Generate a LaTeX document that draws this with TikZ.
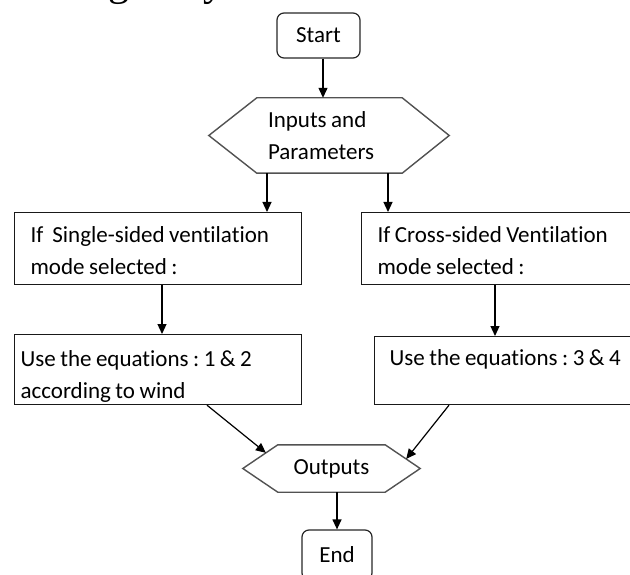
\documentclass[tikz,border=0pt]{standalone}
\usepackage{fontspec}
\setmainfont{Carlito}[Ligatures=NoCommon]
\newfontfamily\fragfont{Liberation Serif}
\usetikzlibrary{arrows.meta,calc}
\newcommand{\boxfont}{\fontsize{23}{32}\selectfont}
\newcommand{\tightspace}{\spaceskip=4.5pt plus 1pt minus 0.5pt\xspaceskip=4.5pt plus 1pt minus 0.5pt\relax}
\begin{document}
\begin{tikzpicture}[x=1pt,y=-1pt,
  every node/.style={font=\boxfont},
  rbox/.style={rounded corners=7pt, draw=black!85, line width=1.2pt, inner sep=0pt},
  pbox/.style={draw=black!90, line width=1.2pt, anchor=north west, align=left, inner ysep=0pt,
    execute at begin node=\tightspace},
  hexn/.style={inner sep=0pt, align=left, execute at begin node=\tightspace},
  hexline/.style={draw=black!68, line width=1.4pt, line join=miter},
  arr/.style={draw=black, line width=1.2pt, -{Triangle[length=10pt,width=9pt]}},
]
\useasboundingbox (0,0) rectangle (630,575);
\clip (0,0) rectangle (630,575);

% cut-off text line at the top
\node[font=\fragfont\fontsize{42}{42}\selectfont, anchor=base east, inner sep=0pt] (frag) at (225,-4) {g to by};

% nodes
\node[rbox, minimum width=83pt, minimum height=45pt] (start) at (318.5,35.5) {Start};

\node[hexn, minimum width=240pt, minimum height=75pt, text width=122pt] (inp) at (329,135.5) {Inputs and\\Parameters};
\draw[hexline] (inp.west) -- ($(inp.north west)+(48,0)$) -- ($(inp.north east)+(-47,0)$) -- (inp.east)
  -- ($(inp.south east)+(-47,0)$) -- ($(inp.south west)+(48,0)$) -- cycle;

\node[pbox, minimum width=287pt, minimum height=72pt, text width=255pt, inner xsep=16pt] (sl) at (14,212)
  {\rule{0pt}{20pt}If\hspace{9pt}Single-sided ventilation\\mode selected :};
\node[pbox, minimum width=300pt, minimum height=72pt, text width=268pt, inner xsep=16pt] (cr) at (361,212)
  {\rule{0pt}{20pt}If Cross-sided Ventilation\\mode selected :};

\node[pbox, minimum width=287pt, minimum height=70pt, text width=275pt, inner xsep=6pt] (ul) at (14,334)
  {\rule{0pt}{30pt}Use the equations : 1 \& 2\\according to wind};
\node[pbox, minimum width=300pt, minimum height=68pt, text width=270pt, inner xsep=15pt] (ur) at (374,336)
  {Use the equations : 3 \& 4\rule[-26pt]{0pt}{0pt}};

\node[hexn, minimum width=177pt, minimum height=47pt] (out) at (331.5,468.5) {Outputs};
\coordinate (onw) at ($(out.north west)+(35,0)$);
\coordinate (one) at ($(out.north east)+(-35,0)$);
\draw[hexline] (out.west) -- (onw) -- (one) -- (out.east)
  -- ($(out.south east)+(-35,0)$) -- ($(out.south west)+(35,0)$) -- cycle;

\node[rbox, minimum width=70pt, minimum height=50pt] (end) at (337,555) {End};

% connectors
\coordinate (a1) at ($(start.south)+(4.5,0)$);
\draw[arr] (a1) -- (a1 |- inp.north);
\coordinate (a2) at ($(inp.south)+(-62,0)$);
\draw[arr] (a2) -- (a2 |- sl.north);
\coordinate (a3) at ($(inp.south)+(59,0)$);
\draw[arr] (a3) -- (a3 |- cr.north);
\coordinate (a4) at ($(sl.south west)+(148,0)$);
\draw[arr] (a4) -- (a4 |- ul.north);
\coordinate (a5) at ($(cr.south west)+(134,0)$);
\draw[arr] (a5) -- (a5 |- ur.north);
\coordinate (a6) at ($(ul.south west)+(193,0)$);
\draw[arr] (a6) -- ($(out.west)!0.66!(onw)$);
\coordinate (a7) at ($(ur.south west)+(75,0)$);
\draw[arr] (a7) -- ($(out.east)!0.4!(one)$);
\coordinate (a8) at ($(out.south)+(5.5,0)$);
\draw[arr] (a8) -- (a8 |- end.north);
\end{tikzpicture}
\end{document}
